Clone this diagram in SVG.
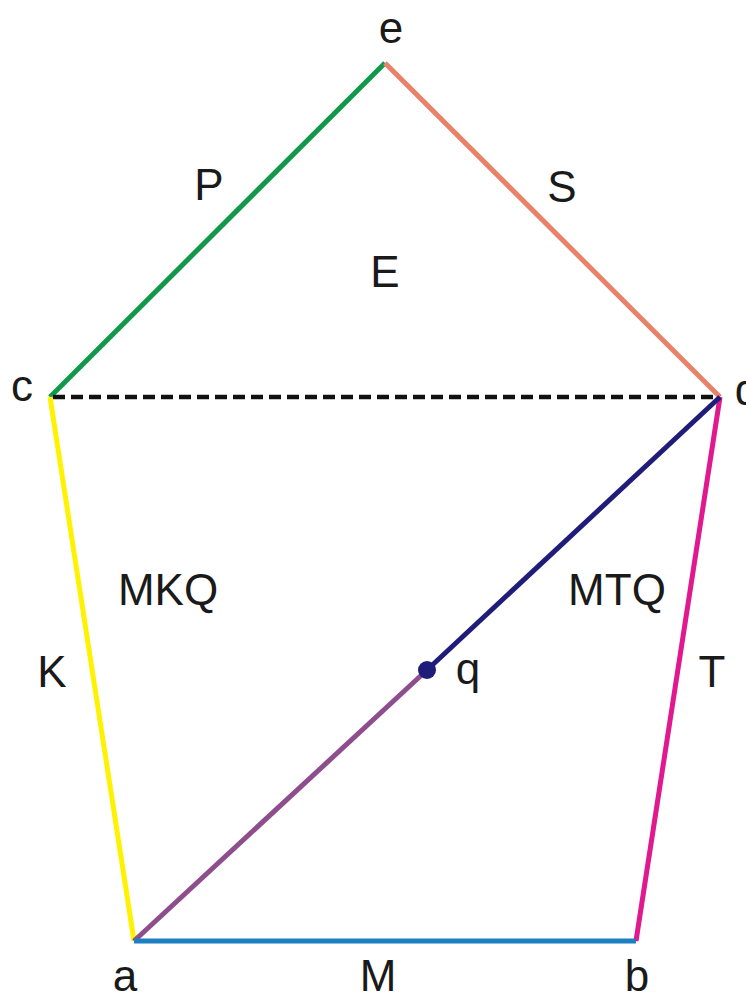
<svg xmlns="http://www.w3.org/2000/svg" width="746" height="996" viewBox="0 0 746 996">
<style>
.edge{fill:none;stroke-width:5;stroke-linecap:butt}
.lbl{font-family:"Liberation Sans",Arial,sans-serif;font-size:44px;fill:#1a1a1a;text-anchor:middle}
</style>
<rect width="746" height="996" fill="#ffffff"/>
<g id="connectors">
<line class="edge" x1="50" y1="397" x2="385" y2="63" stroke="#12984a"/>
<line class="edge" x1="385" y1="63" x2="720" y2="397" stroke="#e8836a"/>
<line x1="53" y1="397" x2="716" y2="397" stroke="#111111" stroke-width="4.5" stroke-dasharray="12,6"/>
<line class="edge" x1="50" y1="397" x2="134" y2="941" stroke="#fff200"/>
<line class="edge" x1="720" y1="397" x2="636" y2="941" stroke="#e0198f"/>
<line class="edge" x1="720" y1="397" x2="427" y2="670" stroke="#1f1c7a"/>
<line class="edge" x1="134" y1="941" x2="427" y2="670" stroke="#8e4d8c"/>
<line class="edge" x1="134" y1="941" x2="636" y2="941" stroke="#1b7fc1"/>
</g>
<g id="node-q"><circle cx="427" cy="670" r="9" fill="#1f1c7a"/><text class="lbl" x="468" y="684">q</text></g>
<g id="node-e"><text class="lbl" x="391" y="43">e</text></g>
<g id="node-c"><text class="lbl" x="22" y="401">c</text></g>
<g id="node-d"><text class="lbl" x="747" y="405">d</text></g>
<g id="node-a"><text class="lbl" x="125" y="991">a</text></g>
<g id="node-b"><text class="lbl" x="637" y="991">b</text></g>
<g id="edge-labels">
<text class="lbl" x="209" y="200">P</text>
<text class="lbl" x="562" y="202">S</text>
<text class="lbl" x="385" y="287">E</text>
<text class="lbl" x="168" y="605">MKQ</text>
<text class="lbl" x="617" y="605">MTQ</text>
<text class="lbl" x="52" y="687">K</text>
<text class="lbl" x="712" y="687">T</text>
<text class="lbl" x="378" y="991">M</text>
</g>
</svg>
